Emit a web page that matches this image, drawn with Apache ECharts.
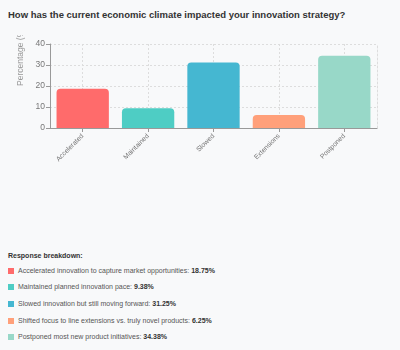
<!DOCTYPE html>
<html>
<head>
<meta charset="utf-8">
<script src="https://cdn.jsdelivr.net/npm/echarts@6/dist/echarts.min.js"></script>
<style>
html,body{margin:0;padding:0;background:#f8f9fa;width:400px;height:350px;overflow:hidden;font-family:"Liberation Sans",Arial,sans-serif;}
#title{position:absolute;left:8px;top:9px;font-size:9.5px;font-weight:bold;color:#333;white-space:nowrap;}
#chart{position:absolute;left:0;top:35px;width:400px;height:150px;}
#breakdown{position:absolute;left:8px;top:251px;font-size:7px;color:#555;}
#breakdown .hd{font-weight:bold;color:#333;height:10px;line-height:10px;margin-bottom:6.7px;}
#breakdown .it{height:16.7px;line-height:6px;white-space:nowrap;}
#breakdown .sq{display:inline-block;width:6px;height:6px;margin-right:4px;vertical-align:top;}
#breakdown b{color:#333;}
</style>
</head>
<body>
<div id="title">How has the current economic climate impacted your innovation strategy?</div>
<div id="chart"></div>
<div id="breakdown"></div>
<script>
const categories = ["Accelerated", "Maintained", "Slowed", "Extensions", "Postponed"];
const values = [18.75, 9.38, 31.25, 6.25, 34.38];
const colors = ["#ff6b6b", "#4ecdc4", "#45b7d1", "#ffa07a", "#98d8c8"];
const descriptions = [
  "Accelerated innovation to capture market opportunities",
  "Maintained planned innovation pace",
  "Slowed innovation but still moving forward",
  "Shifted focus to line extensions vs. truly novel products",
  "Postponed most new product initiatives"
];
const yTicks = [0, 10, 20, 30, 40];
const yAxisName = "Percentage (%)";

const bd = document.getElementById('breakdown');
let html = '<div class="hd">Response breakdown:</div>';
descriptions.forEach((d, i) => {
  html += '<div class="it"><span class="sq" style="background:' + colors[i] + '"></span>' + d + ': <b>' + values[i].toFixed(2) + '%</b></div>';
});
bd.innerHTML = html;

const chart = echarts.init(document.getElementById('chart'), null, {renderer: 'canvas'});
const font = '"Liberation Sans", Arial, sans-serif';
chart.setOption({
  backgroundColor: 'transparent',
  animation: false,
  grid: {left: 50, right: 23, top: 9, bottom: 57, containLabel: false},
  xAxis: {
    type: 'category',
    data: categories,
    axisLine: {lineStyle: {color: '#999', width: 1}},
    axisTick: {show: true, alignWithLabel: true, length: 4, lineStyle: {color: '#999'}},
    axisLabel: {rotate: 45, fontSize: 6.8, color: '#777', fontFamily: font, margin: 7},
    splitLine: {show: true, alignWithLabel: true, lineStyle: {color: '#ddd', type: [2, 2]}}
  },
  yAxis: [{
    type: 'value',
    min: yTicks[0],
    max: yTicks[yTicks.length - 1],
    interval: 10,
    axisLine: {show: true, lineStyle: {color: '#999'}},
    axisTick: {show: true, length: 4, lineStyle: {color: '#999'}},
    axisLabel: {fontSize: 8.5, color: '#777', fontFamily: font, margin: 5},
    splitLine: {show: true, lineStyle: {color: '#ddd', type: [2, 2]}}
  }, {
    type: 'value',
    position: 'right',
    min: yTicks[0],
    max: yTicks[yTicks.length - 1],
    interval: 10,
    axisLine: {show: true, lineStyle: {color: '#ddd', type: [2, 2]}},
    axisTick: {show: false},
    axisLabel: {show: false},
    splitLine: {show: false}
  }],
  graphic: [{
    type: 'text',
    x: 21,
    y: 51,
    rotation: Math.PI / 2,
    style: {text: yAxisName, fill: '#999', font: '8.5px ' + font, textAlign: 'left', textVerticalAlign: 'middle'}
  }],
  series: [{
    type: 'bar',
    data: values.map((v, i) => ({value: v, itemStyle: {color: colors[i]}})),
    barWidth: '80%',
    itemStyle: {borderRadius: [4, 4, 0, 0]}
  }]
});
</script>
</body>
</html>
